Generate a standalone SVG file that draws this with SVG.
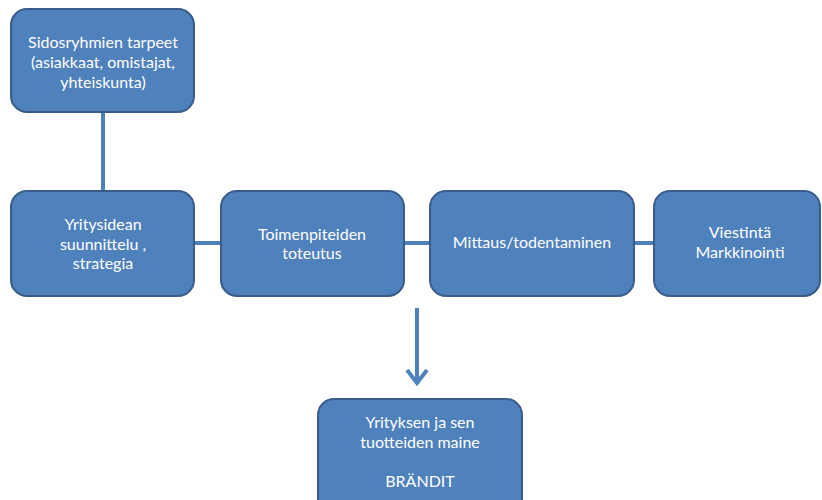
<svg xmlns="http://www.w3.org/2000/svg" width="822" height="500" viewBox="0 0 822 500">
<style>
.box{fill:#4F81BD;stroke:#385D8A;stroke-width:2}
.t{fill:#fff;font-family:Lato,"Open Sans","Liberation Sans",sans-serif;font-size:16px;text-anchor:middle}
.ln{stroke:#4F81BD;stroke-width:4;fill:none}
</style>
<rect width="822" height="500" fill="#fff"/>
<g id="connectors">
<line class="ln" x1="103" y1="112" x2="103" y2="191"/>
<line class="ln" x1="194" y1="243" x2="221" y2="243"/>
<line class="ln" x1="404" y1="243" x2="430" y2="243"/>
<line class="ln" x1="634" y1="243" x2="654" y2="243"/>
<line class="ln" x1="417" y1="308" x2="417" y2="383"/>
<polyline class="ln" points="407,370 417,383 427,370" stroke-linejoin="miter"/>
</g>
<g id="n1"><rect class="box" x="11" y="9" width="183" height="103" rx="16"/>
<text class="t" x="103" y="48">Sidosryhmien tarpeet</text>
<text class="t" x="103" y="68">(asiakkaat, omistajat,</text>
<text class="t" x="103" y="88">yhteiskunta)</text></g>
<g id="n2"><rect class="box" x="11" y="191" width="183" height="105" rx="16"/>
<text class="t" x="103" y="230">Yritysidean</text>
<text class="t" x="103" y="250">suunnittelu ,</text>
<text class="t" x="103" y="269">strategia</text></g>
<g id="n3"><rect class="box" x="221" y="191" width="183" height="105" rx="16"/>
<text class="t" x="312" y="240">Toimenpiteiden</text>
<text class="t" x="312" y="259">toteutus</text></g>
<g id="n4"><rect class="box" x="430" y="191" width="204" height="105" rx="16"/>
<text class="t" x="532" y="248">Mittaus/todentaminen</text></g>
<g id="n5"><rect class="box" x="654" y="191" width="166" height="105" rx="16"/>
<text class="t" x="740" y="238">Viestintä</text>
<text class="t" x="740" y="258">Markkinointi</text></g>
<g id="n6"><rect class="box" x="318" y="399" width="204" height="120" rx="16"/>
<text class="t" x="420" y="428">Yrityksen ja sen</text>
<text class="t" x="420" y="448">tuotteiden maine</text>
<text class="t" x="420" y="487">BRÄNDIT</text></g>
</svg>
